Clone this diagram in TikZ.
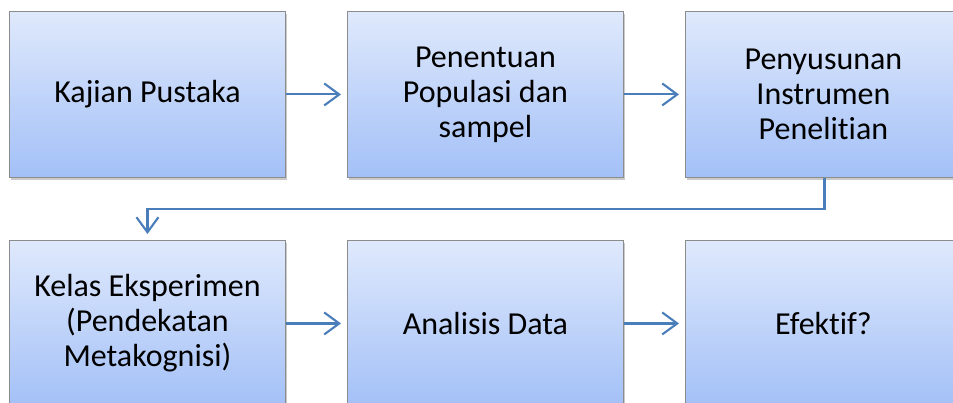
\documentclass[tikz,border=0pt]{standalone}
\usepackage{fontspec}
\setmainfont{Carlito}[Ligatures=NoCommon]
\usetikzlibrary{arrows.meta,shadows}
\definecolor{boxtop}{HTML}{DFE9FC}
\definecolor{boxbot}{HTML}{A3C0F7}
\definecolor{boxedge}{HTML}{8C8C8C}
\definecolor{arrowblue}{HTML}{4A7EBB}
\begin{document}
\begin{tikzpicture}[x=1pt,y=1pt,
  box/.style={draw=boxedge, line width=0.9pt, top color=boxtop, bottom color=boxbot,
    minimum width=276pt, minimum height=166pt, inner sep=0pt, align=center,
    font=\fontsize{32}{35}\selectfont,
    drop shadow={opacity=0.35, shadow xshift=1.5pt, shadow yshift=-2.5pt, fill=black!60}},
  arr/.style={draw=arrowblue, line width=2.1pt,
    -{Straight Barb[length=15pt,width=22pt,line width=2.1pt]}, shorten >=6pt}]
\useasboundingbox (0,0) rectangle (953,-403);
\clip (0,0) rectangle (953,-403);
\node[box, anchor=north west] (a) at (9,-11) {Kajian Pustaka};
\node[box, anchor=north west] (b) at (347,-11) {Penentuan\\Populasi dan\\sampel};
\node[box, anchor=north west] (c) at (685,-11) {Penyusunan\\Instrumen\\Penelitian};
\node[box, anchor=north west] (d) at (9,-240) {Kelas Eksperimen\\(Pendekatan\\Metakognisi)};
\node[box, anchor=north west] (e) at (347,-240) {Analisis Data};
\node[box, anchor=north west] (f) at (685,-240) {Efektif?};
\draw[arr] (a) -- (b);
\draw[arr] (b) -- (c);
\draw[arr] (d) -- (e);
\draw[arr] (e) -- (f);
\coordinate (k1) at ([xshift=1pt]c.south |- 0,-209);
\draw[arr] ([xshift=1pt]c.south) -- (k1) -- (d.north |- k1) -- (d.north);
\end{tikzpicture}
\end{document}
